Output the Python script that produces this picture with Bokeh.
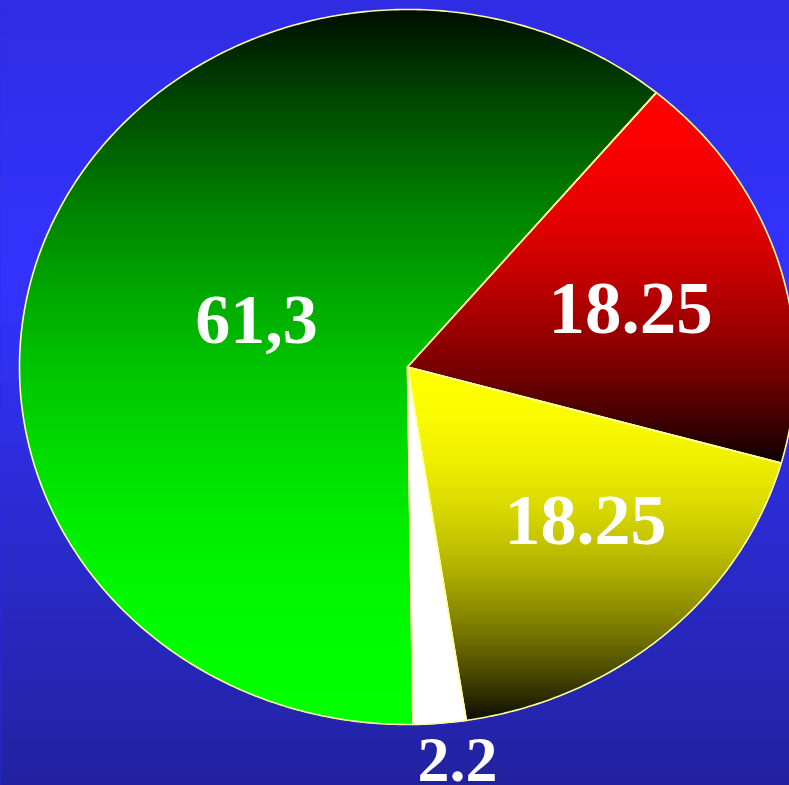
import numpy as np
from bokeh.plotting import figure
from bokeh.models import Range1d, ColumnDataSource
from bokeh.core.properties import value
from bokeh.embed import file_html
from bokeh.resources import INLINE

# ---- data ----
labels = ["61,3", "18.25", "18.25", "2.2"]
values = [61.3, 18.25, 18.25, 2.2]

# ---- styles / layout ----
bright_rgb = [(0, 255, 0), (255, 0, 0), (255, 255, 0), (255, 255, 255)]
bright_end = ["bottom", "top", "top", "solid"]
label_x = [256, 630, 585, 457]
label_y = [319, 308, 520, 759]
label_size = ["70px", "73px", "72px", "64px"]

W, H = 789, 785
CX, CY, RX, RY = 407.0, 366.5, 388.0, 357.5
START_DEG = -89.2          # clockwise from here
OUTLINE = "#FFFFA0"

p = figure(width=W, height=H, x_range=Range1d(0, W), y_range=Range1d(H, 0),
           output_backend="svg", toolbar_location=None, min_border=0,
           x_axis_type=None, y_axis_type=None, outline_line_color=None,
           background_fill_color="#3232f5", border_fill_color="#3232f5")
p.grid.visible = False

# ---- background gradient ----
bg_y = [0, 280, 785]
bg_r = [47, 51, 34]
bg_g = [45, 51, 34]
bg_b = [226, 255, 160]
step = 4
tops = np.arange(0, H, step)
cols = []
for t in tops:
    yc = t + step / 2
    r = int(round(np.interp(yc, bg_y, bg_r)))
    g = int(round(np.interp(yc, bg_y, bg_g)))
    b = int(round(np.interp(yc, bg_y, bg_b)))
    cols.append("#%02x%02x%02x" % (r, g, b))
p.quad(left=0, right=W, top=list(tops), bottom=list(tops + step + 0.5),
       fill_color=cols, line_color=cols, line_width=0.5)


# ---- slice geometry ----
def clip(poly, yv, keep_ge):
    out = []
    n = len(poly)
    for i in range(n):
        cur = poly[i]
        prev = poly[i - 1]
        cin = cur[1] >= yv if keep_ge else cur[1] <= yv
        pin = prev[1] >= yv if keep_ge else prev[1] <= yv
        if cin != pin:
            dy = cur[1] - prev[1]
            tt = (yv - prev[1]) / dy if dy != 0 else 0
            out.append((prev[0] + tt * (cur[0] - prev[0]), yv))
        if cin:
            out.append(cur)
    return out


total = sum(values)
a0 = START_DEG
slice_polys = []
for v in values:
    span = v / total * 360.0
    a1 = a0 - span
    n = max(6, int(span * 1.5))
    angs = np.radians(np.linspace(a0, a1, n))
    pts = [(CX, CY)] + [(CX + RX * np.cos(a), CY - RY * np.sin(a)) for a in angs]
    slice_polys.append(pts)
    a0 = a1

band_xs, band_ys, band_cols = [], [], []
FLOOR = 0.05
for pts, rgb, end in zip(slice_polys, bright_rgb, bright_end):
    ys_ = [q[1] for q in pts]
    ytop, ybot = min(ys_), max(ys_)
    if end == "solid":
        band_xs.append([q[0] for q in pts])
        band_ys.append(ys_)
        band_cols.append("#%02x%02x%02x" % rgb)
        continue
    bh = 3.0
    y = ytop
    while y < ybot:
        y1 = min(y + bh, ybot)
        poly = clip(pts, y, True)
        poly = clip(poly, y1, False) if poly else []
        if len(poly) >= 3:
            yc = (y + y1) / 2
            if end == "top":
                t = (yc - ytop) / (ybot - ytop)
            else:
                t = (ybot - yc) / (ybot - ytop)
            f = FLOOR + (1 - FLOOR) * (1 - t * t)
            c = tuple(int(round(ch * f)) for ch in rgb)
            band_xs.append([q[0] for q in poly])
            band_ys.append([q[1] for q in poly])
            band_cols.append("#%02x%02x%02x" % c)
        y = y1

src = ColumnDataSource(dict(xs=band_xs, ys=band_ys, color=band_cols))
p.patches("xs", "ys", source=src, fill_color="color", line_color="color", line_width=1)

# outlines
p.patches([[q[0] for q in s] for s in slice_polys], [[q[1] for q in s] for s in slice_polys],
          fill_alpha=0, line_color=OUTLINE, line_width=1.6, line_join="round")

# labels
lsrc = ColumnDataSource(dict(x=label_x, y=label_y, text=labels, size=label_size))
p.text(x="x", y="y", text="text", source=lsrc, text_font=value("Liberation Serif"),
       text_font_style="bold", text_font_size="size", text_color="white",
       text_align="center", text_baseline="alphabetic")

html = file_html(p, INLINE, title="pie")
html = html.replace("</head>", "<style>html,body{margin:0;padding:0;overflow:hidden;background:#2c2cd8;}</style></head>", 1)
open("out.html", "w").write(html)
